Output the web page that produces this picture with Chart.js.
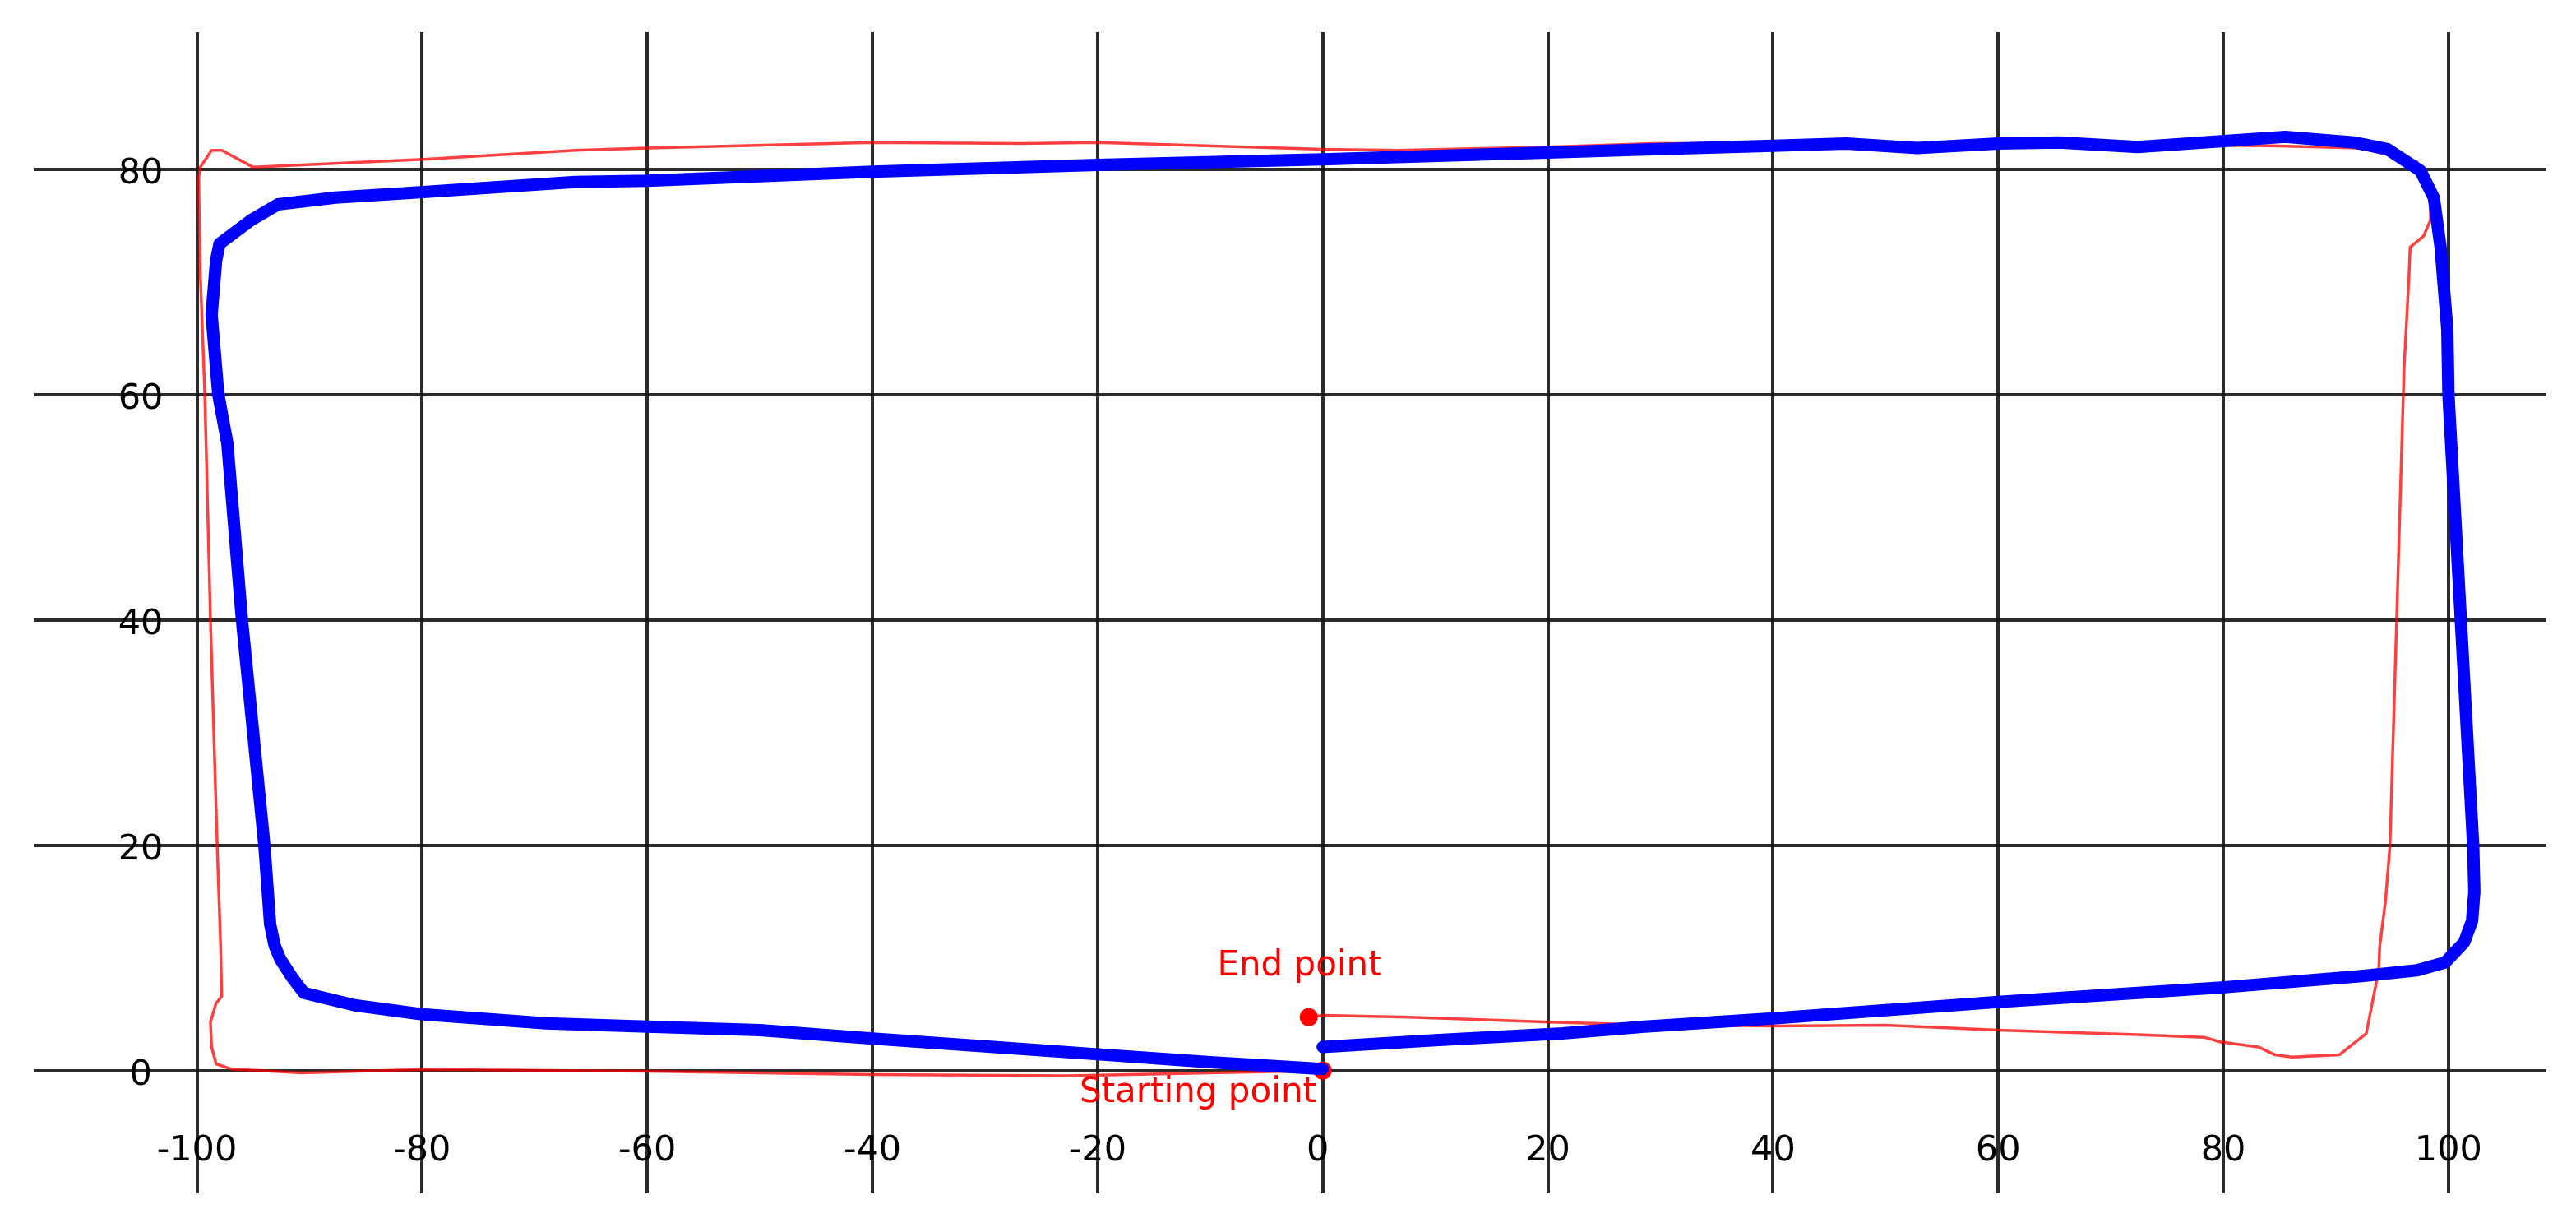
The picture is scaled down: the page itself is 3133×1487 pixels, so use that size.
<!DOCTYPE html>
<html>
<head>
<meta charset="utf-8">
<script src="https://cdn.jsdelivr.net/npm/chart.js@4/dist/chart.umd.min.js"></script>
<style>
  html, body { margin: 0; padding: 0; background: #ffffff; }
  #wrap { width: 3133px; height: 1487px; }
</style>
</head>
<body>
<div id="wrap"><canvas id="c" width="3133" height="1487"></canvas></div>
<script>
// ---- Data ----
const xTicks = [-100, -80, -60, -40, -20, 0, 20, 40, 60, 80, 100];
const yTicks = [0, 20, 40, 60, 80];

// Estimated trajectory (thick blue)
const estX = [0, -10, -20, -30, -40, -50, -60, -69, -80, -86, -90.5, -91.5, -92.6, -93.1, -93.5, -94.0, -96.0, -97.3, -98.1, -98.7, -98.3, -98.0, -95.2, -92.8, -87.7, -79.9, -66.4, -60, -40, -20, 0, 6.6, 20, 29.3, 40, 46.5, 52.8, 60, 65.4, 72.4, 79.8, 85.5, 91.6, 94.6, 97.5, 98.7, 99.3, 99.9, 100.0, 101.1, 102.2, 102.3, 102.1, 101.4, 99.7, 97.2, 92.3, 80.1, 72.4, 60, 40, 28.6, 21.3, 10, 0];
const estY = [0.15, 0.75, 1.45, 2.15, 2.85, 3.6, 3.9, 4.2, 5.0, 5.8, 6.9, 8.2, 9.9, 11.1, 13.0, 19.9, 40, 55.7, 60, 67.1, 71.9, 73.4, 75.5, 76.9, 77.5, 78.0, 78.9, 79.0, 79.8, 80.4, 80.9, 81.1, 81.5, 81.8, 82.1, 82.3, 81.9, 82.3, 82.4, 82.0, 82.5, 82.9, 82.4, 81.8, 79.9, 77.5, 73.1, 65.8, 60, 40, 19.9, 15.9, 13.3, 11.4, 9.6, 8.9, 8.4, 7.4, 6.9, 6.1, 4.64, 3.9, 3.3, 2.7, 2.1];

// Reference trajectory (thin red)
const refX = [0, -22.6, -40, -60, -80, -90.7, -97.0, -98.3, -98.7, -98.8, -98.3, -97.8, -97.9, -98.2, -98.8, -99.3, -99.7, -99.85, -99.7, -98.7, -97.8, -95.0, -79.9, -66.4, -60, -40, -26.8, -20, 0, 6.6, 20, 29.3, 50, 70, 84.2, 92.2, 97.2, 98.4, 98.4, 97.8, 96.6, 96.5, 96.05, 95.4, 94.8, 94.4, 93.9, 93.8, 92.7, 90.3, 86.1, 84.6, 83.1, 79.7, 78.3, 72.4, 60, 50, 40, 27, 20.2, 7.7, 0, -1.24];
const refY = [0, -0.45, -0.35, -0.05, 0.1, -0.2, 0.15, 0.6, 2.1, 4.3, 6.0, 6.6, 11.1, 19.9, 40, 60, 70.7, 79.2, 80.2, 81.7, 81.7, 80.2, 80.9, 81.7, 81.9, 82.4, 82.3, 82.4, 81.8, 81.7, 82.0, 82.3, 82.3, 82.2, 82.1, 81.9, 80.7, 77.5, 75.5, 74.1, 73.1, 70.7, 62.2, 40, 19.9, 15, 11.1, 8.9, 3.3, 1.4, 1.2, 1.4, 2.1, 2.55, 2.96, 3.2, 3.6, 4.04, 3.96, 4.1, 4.3, 4.75, 4.9, 4.75];

// Marked points
const markerNames = ["Starting point", "End point"];
const markerX = [0, -1.24];
const markerY = [0, 4.75];

const toPts = (xs, ys) => xs.map((x, i) => ({ x: x, y: ys[i] }));

const FONT = '"DejaVu Sans", "Liberation Sans", sans-serif';

const labelPlugin = {
  id: 'labelPlugin',
  afterDatasetsDraw(chart) {
    const ctx = chart.ctx;
    const xs = chart.scales.x, ys = chart.scales.y;
    ctx.save();
    // tick labels
    ctx.fillStyle = '#000000';
    ctx.font = '43px ' + FONT;
    ctx.textAlign = 'center';
    ctx.textBaseline = 'middle';
    const xLabelY = ys.getPixelForValue(-7.15);
    xTicks.forEach(v => ctx.fillText(String(v), xs.getPixelForValue(v) + (v === 0 ? -6 : 0), xLabelY));
    const yLabelX = xs.getPixelForValue(-105);
    yTicks.forEach(v => ctx.fillText(String(v), yLabelX, ys.getPixelForValue(v) + 6));
    // marker labels
    ctx.fillStyle = '#ff0000';
    ctx.font = '42px ' + FONT;
    ctx.textAlign = 'left';
    ctx.textBaseline = 'alphabetic';
    ctx.fillText(markerNames[1], xs.getPixelForValue(-9.37), ys.getPixelForValue(8.42));
    ctx.fillText(markerNames[0], xs.getPixelForValue(-21.6), ys.getPixelForValue(-2.77));
    ctx.restore();
  }
};

new Chart(document.getElementById('c'), {
  type: 'scatter',
  data: {
    datasets: [
      {
        label: markerNames[1],
        data: [{ x: markerX[1], y: markerY[1] }],
        showLine: false,
        pointRadius: 11,
        pointBackgroundColor: '#ff0000',
        pointBorderWidth: 0,
        order: 0
      },
      {
        label: 'Estimated',
        data: toPts(estX, estY),
        showLine: true,
        borderColor: '#0000ff',
        borderWidth: 15,
        borderJoinStyle: 'round',
        borderCapStyle: 'round',
        pointRadius: 0,
        tension: 0,
        order: 1
      },
      {
        label: markerNames[0],
        data: [{ x: markerX[0], y: markerY[0] }],
        showLine: false,
        pointRadius: 11,
        pointBackgroundColor: '#ff0000',
        pointBorderWidth: 0,
        order: 2
      },
      {
        label: 'Reference',
        data: toPts(refX, refY),
        showLine: true,
        borderColor: 'rgba(255,0,0,0.75)',
        borderWidth: 3.5,
        borderJoinStyle: 'round',
        pointRadius: 0,
        tension: 0,
        order: 3
      }
    ]
  },
  options: {
    responsive: false,
    animation: false,
    devicePixelRatio: 1,
    layout: { padding: { left: 41, top: 39, right: 36, bottom: 36 } },
    plugins: { legend: { display: false }, tooltip: { enabled: false } },
    scales: {
      x: {
        type: 'linear',
        min: -114.5,
        max: 108.7,
        ticks: { stepSize: 20, display: false, includeBounds: false },
        grid: { color: 'rgba(20,20,20,0.9)', lineWidth: 4, drawTicks: false },
        border: { display: false }
      },
      y: {
        type: 'linear',
        min: -10.9,
        max: 92.2,
        ticks: { stepSize: 20, display: false, includeBounds: false },
        grid: { color: 'rgba(20,20,20,0.9)', lineWidth: 4, drawTicks: false },
        border: { display: false }
      }
    }
  },
  plugins: [labelPlugin]
});
</script>
</body>
</html>
